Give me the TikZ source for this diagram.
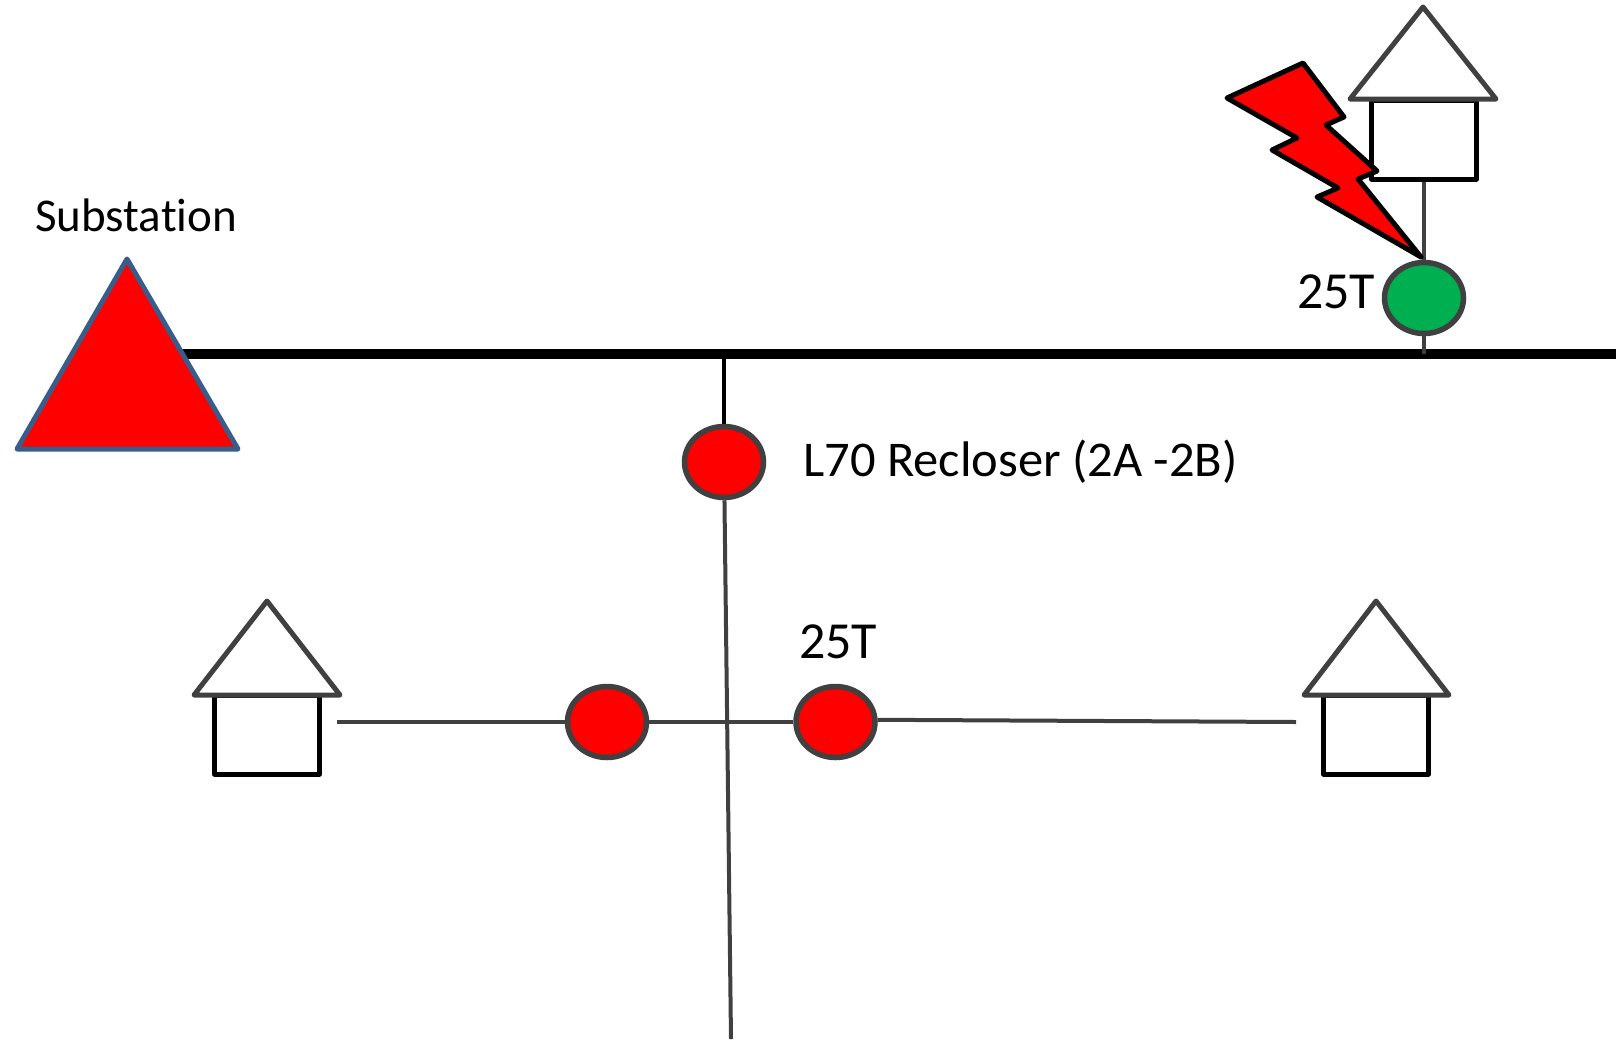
\documentclass[tikz,border=0pt]{standalone}
\usepackage{fontspec}
\setmainfont[Ligatures=NoCommon]{Carlito}
\newfontfamily\recfont[Ligatures=NoCommon, FakeStretch=1.01]{Carlito}
\usetikzlibrary{calc, positioning, shapes.geometric}
\definecolor{linegray}{HTML}{404040}
\definecolor{subblue}{HTML}{385D8A}
\definecolor{okgreen}{HTML}{00B050}
\tikzstyle{dev}=[draw=linegray, shape=ellipse, line width=5.5pt, inner sep=0pt, minimum width=79pt, minimum height=71pt]
\tikzstyle{body}=[draw=black, shape=rectangle, line width=5pt, line join=round, inner sep=0pt, minimum width=105pt, minimum height=79pt]
\tikzstyle{roof}=[draw=linegray, line width=5pt, line join=round]
\tikzstyle{wire}=[draw=linegray, line width=4pt]
\tikzstyle{lab}=[inner sep=0pt, anchor=base west, font=\fontsize{47}{47}\selectfont]
\tikzstyle{reclab}=[lab, font=\recfont\fontsize{50}{50}\selectfont]
\tikzstyle{taglab}=[lab, font=\fontsize{52}{52}\selectfont]

\begin{document}
\begin{tikzpicture}[x=1pt, y=-1pt]
\useasboundingbox (0,0) rectangle (1616,1039);
% the devices
\node[dev, fill=red] (rec) at (724,462) {};
\node[dev, fill=red] (devL) at (607,722) {};
\node[dev, fill=red] (devR) at (835.5,722) {};
\node[dev, fill=okgreen] (devTop) at (1424,298) {};
\node[reclab] (recLab) at (803,476) {L70 Recloser (2A -2B)};
\node[taglab] (rLab) at (799,658) {25T};
\node[taglab] (tLab) at (1297,308) {25T};
% the free ends of the lines
\coordinate (busL) at (182,354);
\coordinate (busR) at (1616,354);
\coordinate (feedEnd) at (731,1039);
\coordinate (tapL) at (337,722);
\coordinate (tapR) at (1296,722);
\coordinate (busTap) at (724,354);
\coordinate (busTop) at (1424,354);
% the main bus
\draw[black, line width=10pt] (busL) -- (busR);
% the substation
\coordinate (S1) at (127,259);
\coordinate (S2) at (17,449);
\coordinate (S3) at (238,449);
\filldraw[fill=red, draw=subblue, line width=5pt, line join=round] (S1) -- (S2) -- (S3) -- cycle;
\node[lab] (subLab) at (35,231) {Substation};
% the houses
\node[body] (bodyL) at (267,734.5) {};
\node[body] (bodyR) at (1376,734.5) {};
\node[body] (bodyT) at (1424,139.5) {};
\coordinate (L1) at (267,601);
\coordinate (L2) at (194,695);
\coordinate (L3) at (340,695);
\coordinate (R1) at (1376,601);
\coordinate (R2) at (1304,695);
\coordinate (R3) at (1449,695);
\coordinate (T1) at (1423,7);
\coordinate (T2) at (1350,99);
\coordinate (T3) at (1496,99);
\draw[roof] (L1) -- (L2) -- (L3) -- cycle;
\draw[roof] (R1) -- (R2) -- (R3) -- cycle;
\draw[roof] (T1) -- (T2) -- (T3) -- cycle;
% the wires
\draw[black, line width=3.5pt] (busTap) -- (rec);
\draw[wire] (rec) -- (feedEnd);
\draw[wire] (tapL) -- (devL);
\draw[wire] (devL) -- (devR);
\draw[wire] (devR.3) -- (tapR);
\draw[wire] (bodyT) -- (devTop);
\draw[wire] (devTop) -- (busTop);
% the lightning bolt
\filldraw[fill=red, draw=black, line width=5pt, line join=round]
  (1227,98) -- (1303,63) -- (1344,117) -- (1326,125) -- (1377,171) -- (1358,179)
  -- (1421,257) -- (1317,197) -- (1338,188) -- (1272,150) -- (1297,138) -- cycle;
\end{tikzpicture}
\end{document}
